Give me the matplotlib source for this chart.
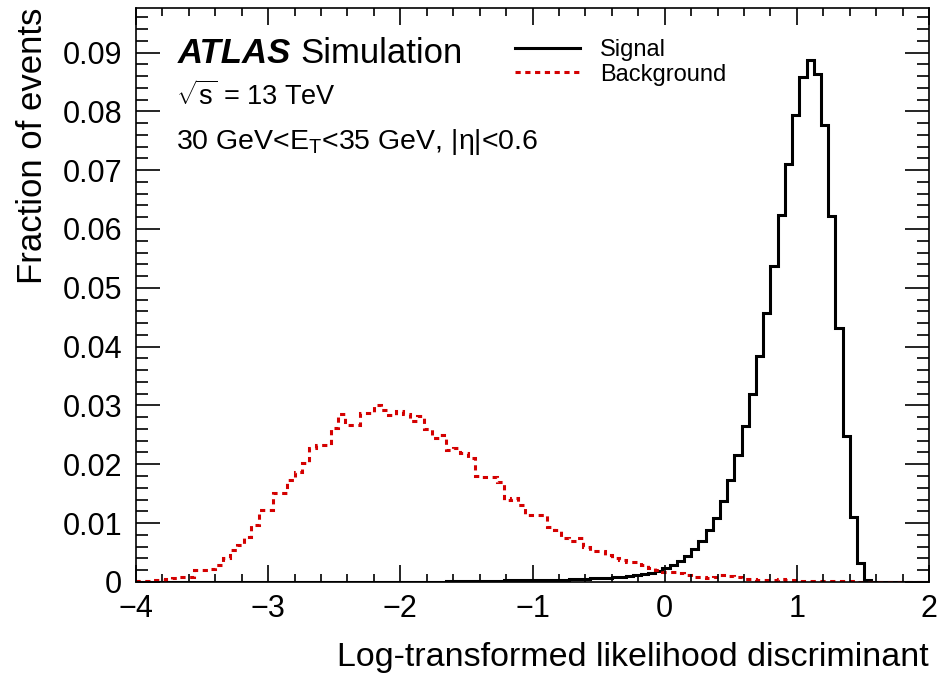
import numpy as np
import matplotlib
matplotlib.use('Agg')
import matplotlib.pyplot as plt
from matplotlib.ticker import MultipleLocator, FuncFormatter
from matplotlib.lines import Line2D

plt.rcParams['font.family'] = ['Liberation Sans', 'DejaVu Sans']
plt.rcParams['mathtext.fontset'] = 'custom'
plt.rcParams['mathtext.rm'] = 'Liberation Sans'
plt.rcParams['mathtext.it'] = 'Liberation Sans:italic'
plt.rcParams['mathtext.bf'] = 'Liberation Sans:bold'

# histogram range / binning (110 bins between -4 and 2)
x_min, x_max, n_bins = -4.0, 2.0, 110

# fraction of events per bin
signal = [
    0, 0, 0, 0, 0, 0, 0, 0, 0, 0,
    0, 0, 0, 0, 0, 0, 0, 0, 0, 0,
    0, 0, 0, 0, 0, 0, 0, 0, 0, 0,
    0, 0, 0, 0, 0, 0, 0, 0, 0, 0,
    0, 0.00005, 0.00005, 0.0001, 0.0001, 0.0001, 0.00015, 0.00015, 0.0002, 0.0002,
    0.0002, 0.00025, 0.00025, 0.0003, 0.0003, 0.0003, 0.00035, 0.00035, 0.0004, 0.0004,
    0.00045, 0.00045, 0.0005, 0.0006, 0.0006, 0.0007, 0.0008, 0.0009, 0.0010, 0.0012,
    0.0013, 0.0015, 0.0018, 0.0024, 0.0029, 0.0035, 0.0044, 0.0056, 0.0069, 0.0088,
    0.0109, 0.0137, 0.0173, 0.0215, 0.0265, 0.0320, 0.0384, 0.0457, 0.0537, 0.0624,
    0.0710, 0.0794, 0.0858, 0.0887, 0.0864, 0.0776, 0.0622, 0.0432, 0.0248, 0.0110,
    0.0032, 0.0004, 0, 0, 0, 0, 0, 0, 0, 0,
]
background = [
    0.0002, 0.0002, 0.0003, 0.0003, 0.0005, 0.0006, 0.0008, 0.0009, 0.0021, 0.0021,
    0.0022, 0.0028, 0.0040, 0.0054, 0.0062, 0.0076, 0.0097, 0.0122, 0.0123, 0.0151,
    0.0151, 0.0174, 0.0186, 0.0202, 0.0227, 0.0233, 0.0233, 0.0262, 0.0285, 0.0267,
    0.0266, 0.0287, 0.0287, 0.0301, 0.0293, 0.0283, 0.0290, 0.0285, 0.0274, 0.0282,
    0.0260, 0.0245, 0.0250, 0.0225, 0.0227, 0.0219, 0.0211, 0.0180, 0.0179, 0.0178,
    0.0170, 0.0140, 0.0142, 0.0130, 0.0113, 0.0113, 0.0113, 0.0093, 0.0088, 0.0075,
    0.0070, 0.0074, 0.0060, 0.0053, 0.0053, 0.0046, 0.0040, 0.0038, 0.0034, 0.0034,
    0.0029, 0.0023, 0.0020, 0.0016, 0.0016, 0.0015, 0.0012, 0.0009, 0.0009, 0.0007,
    0.0009, 0.0011, 0.0010, 0.0008, 0.0005, 0.0005, 0.0003, 0.0003, 0.0004, 0.0005,
    0.0004, 0.0003, 0.0002, 0.0001, 0.0001, 0.0001, 0.0001, 0.0001, 0.0001, 0.0001,
    0.00005, 0.00005, 0.00005, 0.00005, 0.00005, 0.00005, 0, 0, 0, 0,
]
edges = np.linspace(x_min, x_max, n_bins + 1)

red = '#d40000'

fig = plt.figure(figsize=(9.38, 6.79), dpi=100)
ax = fig.add_axes([0.145, 0.143, 0.8455, 0.8455])

ax.stairs(signal, edges, color='black', lw=2.2)
ax.stairs(background, edges, color=red, lw=2.2, linestyle=(0, (1.7, 1.5)))

ax.set_xlim(x_min, x_max)
ax.set_ylim(0, 0.0976)

ax.xaxis.set_major_locator(MultipleLocator(1))
ax.xaxis.set_minor_locator(MultipleLocator(0.2))
ax.yaxis.set_major_locator(MultipleLocator(0.01))
ax.yaxis.set_minor_locator(MultipleLocator(0.002))
ax.yaxis.set_major_formatter(FuncFormatter(lambda v, p: '0' if abs(v) < 1e-9 else f'{v:.2f}'))

ax.tick_params(which='both', direction='in', top=True, right=True, width=1.2, labelsize=22)
ax.tick_params(axis='x', which='major', length=12, pad=9)
ax.tick_params(axis='x', which='minor', length=6)
ax.tick_params(axis='y', which='major', length=17, pad=10)
ax.tick_params(axis='y', which='minor', length=8.5)
for sp in ax.spines.values():
    sp.set_linewidth(1.2)

ax.set_xlabel('Log-transformed likelihood discriminant', fontsize=24.5, loc='right')
ax.xaxis.set_label_coords(1.0, -0.105)
ax.set_ylabel('Fraction of events', fontsize=25, loc='top')
ax.yaxis.set_label_coords(-0.11, 1.0)

# labels
ax.text(0.053, 0.904, 'ATLAS', transform=ax.transAxes, fontsize=25,
        fontweight='bold', fontstyle='italic', va='baseline')
ax.text(0.207, 0.904, 'Simulation', transform=ax.transAxes, fontsize=25, va='baseline')
ax.text(0.050, 0.831, r'$\sqrt{\mathrm{s}}$ = 13 TeV', transform=ax.transAxes,
        fontsize=19.5, va='baseline')
ax.text(0.050, 0.754, '30 GeV<E$_{\\mathrm{T}}$<35 GeV, |η|<0.6', transform=ax.transAxes,
        fontsize=20.5, va='baseline')

handles = [Line2D([], [], color='black', lw=2.2),
           Line2D([], [], color=red, lw=2.2, linestyle=(0, (1.7, 1.5)))]
ax.legend(handles, ['Signal', 'Background'], loc='upper left',
          bbox_to_anchor=(0.478, 0.946), frameon=False, fontsize=17,
          handlelength=2.75, handletextpad=0.85, labelspacing=0.12,
          borderpad=0, borderaxespad=0)

fig.savefig('out.png', dpi=100)
